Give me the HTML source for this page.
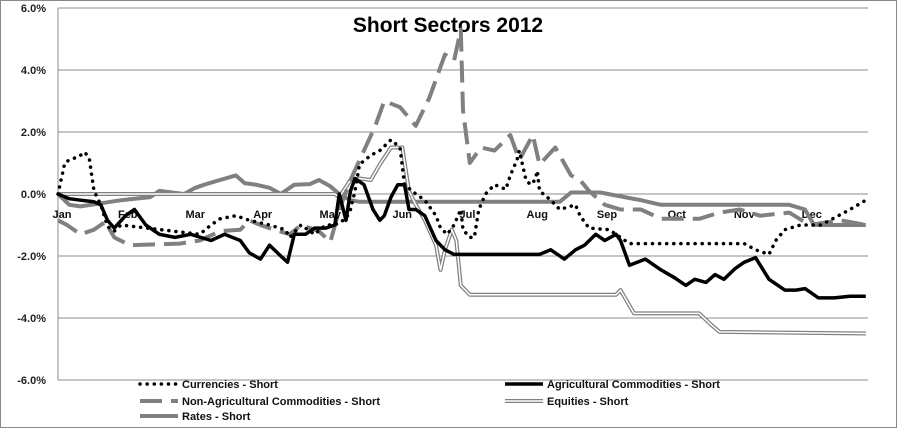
<!DOCTYPE html>
<html><head><meta charset="utf-8"><style>
body{margin:0;background:#fff;font-family:"Liberation Sans",sans-serif}
svg{display:block}
</style></head><body>
<svg id="c" width="897" height="428"></svg>
<script>
const yTicks=[6,4,2,0,-2,-4,-6];
const yTickLabels=["6.0%","4.0%","2.0%","0.0%","-2.0%","-4.0%","-6.0%"];
const months=["Jan","Feb","Mar","Apr","May","Jun","Jul","Aug","Sep","Oct","Nov","Dec"];
const monthDays=[0,31,61,91,121,153,182,213,244,275,305,335];
const curD=[0,3,5,9,12,14,16,19,22,25,28,63,68,72,79,85,94,101,103,108,114,119,123,128,130,132,134,139,143,148,152,154,159,163,168,170,173,176,179,180,183,185,187,190,194,199,201,204,205,208,210,212,213,214,219,223,230,232,236,245,248,254,285,305,310,316,319,323,330,339,343,352,359];
const curV=[0,1.0,1.1,1.2,1.35,1.1,0.1,-0.35,-1.05,-1.2,-1.0,-1.3,-1.0,-0.8,-0.7,-0.85,-1.0,-1.15,-1.4,-1.0,-1.3,-1.0,-1.0,-0.8,-0.5,0.1,0.95,1.25,1.4,1.75,1.5,0.3,0,-0.2,-0.7,-1.1,-1.3,-1.0,-0.5,-1.15,-1.4,-1.4,-0.5,0,0.3,0.15,0.6,1.1,1.4,0.45,0.3,0.45,0.75,0.1,-0.2,-0.5,-0.35,-0.7,-1.1,-1.15,-1.3,-1.6,-1.6,-1.6,-1.8,-1.95,-1.5,-1.15,-1.0,-1.0,-0.85,-0.5,-0.2];
const agD=[0,5,10,16,19,22,25,30,34,39,45,52,59,68,74,81,85,90,94,99,102,105,110,114,119,123,125,128,130,132,136,140,143,145,148,151,154,156,159,163,168,172,176,214,219,225,230,234,239,243,248,250,254,261,268,274,279,283,288,292,296,301,305,310,316,323,328,332,338,345,352,359];
const agV=[0,-0.15,-0.2,-0.25,-0.35,-0.85,-1.1,-0.7,-0.5,-1.0,-1.3,-1.4,-1.3,-1.5,-1.3,-1.5,-1.9,-2.1,-1.65,-2.0,-2.2,-1.3,-1.3,-1.1,-1.1,-1.0,0,-0.85,0.1,0.5,0.3,-0.5,-0.85,-0.7,-0.1,0.3,0.3,-0.5,-0.5,-0.7,-1.5,-1.8,-1.95,-1.95,-1.8,-2.1,-1.8,-1.65,-1.3,-1.5,-1.3,-1.5,-2.3,-2.1,-2.45,-2.7,-2.95,-2.75,-2.85,-2.6,-2.75,-2.4,-2.2,-2.05,-2.75,-3.1,-3.1,-3.05,-3.35,-3.35,-3.3,-3.3];
const eqD=[0,123,125,130,134,139,143,148,153,156,159,163,168,170,172,175,177,179,183,248,250,254,256,285,290,294,359];
const eqV=[0,0,-0.1,0.45,0.5,0.45,0.95,1.5,1.5,0.1,-0.35,-0.85,-1.65,-2.45,-1.8,-1.15,-1.5,-2.95,-3.25,-3.25,-3.1,-3.6,-3.85,-3.85,-4.2,-4.45,-4.5];
const rtD=[0,5,10,19,28,41,45,56,61,65,72,79,83,88,94,99,105,112,116,121,125,130,134,223,228,241,259,268,325,332,336,359];
const rtV=[0,-0.35,-0.4,-0.3,-0.2,-0.1,0.1,0,0.2,0.3,0.45,0.6,0.35,0.3,0.2,0,0.3,0.32,0.45,0.25,0,-0.2,-0.25,-0.25,0.05,0.05,-0.2,-0.35,-0.35,-0.5,-1.0,-1.0];
const naD=[0,4,10,16,21,25,32,54,63,72,81,85,90,96,103,108,116,121,125,130,135,141,145,152,159,165,172,176,179,180,183,188,194,201,205,211,214,221,228,232,236,243,250,259,268,285,294,303,312,325,334,348,359];
const naV=[-0.85,-1.0,-1.3,-1.15,-0.9,-1.4,-1.65,-1.6,-1.5,-1.2,-1.15,-0.85,-1.0,-1.15,-1.3,-1.0,-1.2,-1.55,-0.5,0.45,1.25,2.2,3.0,2.8,2.2,3.1,4.5,4.3,5.3,2.7,1.0,1.5,1.4,1.9,1.1,1.9,0.95,1.5,0.6,0.45,0.1,-0.35,-0.5,-0.5,-0.8,-0.8,-0.6,-0.5,-0.7,-0.6,-1.0,-0.85,-1.0];

const NS="http://www.w3.org/2000/svg";
const svg=document.getElementById('c');
const X0=58,X1=868,Y0=8,Y1=380;
const xS=d=>X0+d*(X1-X0)/360;
const yS=v=>Y1-(v+6)*(Y1-Y0)/12;
function mk(t,a,p){const e=document.createElementNS(NS,t);for(const k in a)e.setAttribute(k,a[k]);(p||svg).appendChild(e);return e;}
const bg=mk('rect',{x:0.5,y:0.5,width:896,height:427,fill:'#fff',stroke:'#888'});


yTicks.forEach((v,i)=>{
 const g=mk('line',{x1:X0,x2:X1,y1:yS(v),y2:yS(v),stroke:'#8c8c8c','stroke-width':1});
 
 
 const t=mk('text',{x:46,y:yS(v)+4,'text-anchor':'end','font-size':11,'font-weight':'bold',fill:'#222'});
 t.textContent=yTickLabels[i];
 
 
});
const ax=mk('line',{x1:X0,x2:X0,y1:Y0,y2:Y1,stroke:'#8c8c8c'});


months.forEach((m,i)=>{
 const t=mk('text',{x:i==0?62:xS(monthDays[i]),y:218,'text-anchor':'middle','font-size':11,'font-weight':'bold',fill:'#111'});
 t.textContent=m;
 
 
});
const ti=mk('text',{x:448,y:32,'text-anchor':'middle','font-size':21,'font-weight':'bold',fill:'#000'});
ti.textContent='Short Sectors 2012';


function pts(D,V){return D.map((d,i)=>xS(d).toFixed(1)+','+yS(V[i]).toFixed(1)).join(' ');}
function line(D,V,st,name){const p=mk('polyline',Object.assign({points:pts(D,V),fill:'none','stroke-linejoin':'round'},st));return p;}
line(rtD,rtV,{stroke:'#808080','stroke-width':4},'rates-line');
line(eqD,eqV,{stroke:'#808080','stroke-width':4},'equities-line-outer');
line(eqD,eqV,{stroke:'#fff','stroke-width':1.5},'equities-line-inner');
line(naD,naV,{stroke:'#808080','stroke-width':4,'stroke-dasharray':'22 9'},'non-ag-line');
line(agD,agV,{stroke:'#000','stroke-width':3.5},'ag-line');
line(curD,curV,{stroke:'#000','stroke-width':3.5,'stroke-dasharray':'0.1 7','stroke-linecap':'round'},'currencies-line');
const leg=[["Currencies - Short",140,388,{stroke:'#000','stroke-width':3.5,'stroke-dasharray':'0.1 7','stroke-linecap':'round'}],
["Agricultural Commodities - Short",505,388,{stroke:'#000','stroke-width':3.5}],
["Non-Agricultural Commodities - Short",140,405,{stroke:'#808080','stroke-width':4,'stroke-dasharray':'22 9'}],
["Equities - Short",505,405,{stroke:'#808080','stroke-width':4}],
["Rates - Short",140,420,{stroke:'#808080','stroke-width':4}]];
leg.forEach((l,i)=>{
 const g=mk('g',{});
 
 
 mk('line',Object.assign({x1:l[1],x2:l[1]+38,y1:l[2]-4,y2:l[2]-4},l[3]),g);
 if(i==3)mk('line',{x1:l[1],x2:l[1]+38,y1:l[2]-4,y2:l[2]-4,stroke:'#fff','stroke-width':1.5},g);
 const t=mk('text',{x:l[1]+42,y:l[2],'font-size':11,'font-weight':'bold',fill:'#111'},g);
 t.textContent=l[0];
});
</script>
</body></html>
